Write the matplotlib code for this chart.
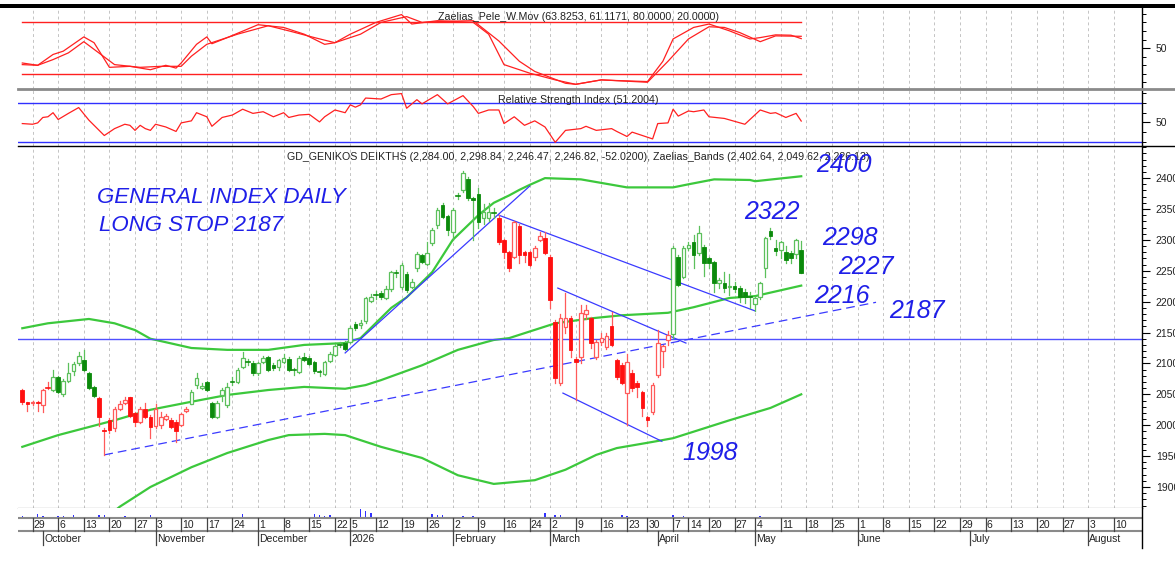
import numpy as np
import pandas as pd
import matplotlib
matplotlib.use("Agg")
import matplotlib.pyplot as plt
from matplotlib.patches import Rectangle
from matplotlib.lines import Line2D

plt.rcParams['font.family'] = ['Liberation Sans', 'DejaVu Sans']

W, H = 1175, 562

# trading calendar: only past holidays are skipped, the future part of the axis is plain weekdays
first_day = '2025-09-25'
last_day = '2026-05-15'
axis_end = '2026-08-14'
holidays = ['2025-10-28', '2025-12-25', '2025-12-26', '2025-12-29', '2025-12-30',
            '2025-12-31', '2026-01-01', '2026-01-02', '2026-02-23', '2026-03-25',
            '2026-04-06', '2026-04-10', '2026-04-13', '2026-05-01']

# daily candles, GD general index
opens = [2057, 2037, 2036, 2038, 2032, 2060, 2057, 2078, 2050, 2072,
         2088, 2100, 2105, 2084, 2062, 2044, 1993, 2008, 1995, 2026,
         2036, 2045, 2019, 2006, 2026, 2013, 1999, 2000, 2010, 2008,
         2006, 2000, 2023, 2035, 2065, 2061, 2070, 2036, 2013, 2049,
         2033, 2069, 2070, 2094, 2103, 2101, 2084, 2102, 2111, 2097,
         2094, 2102, 2107, 2090, 2086, 2111, 2109, 2102, 2087, 2083,
         2104, 2114, 2129, 2133, 2135, 2164, 2163, 2169, 2201, 2210,
         2214, 2206, 2220, 2246, 2224, 2245, 2224, 2254, 2275, 2261,
         2295, 2324, 2356, 2339, 2313, 2370, 2381, 2398, 2368, 2374,
         2335, 2336, 2342, 2335, 2300, 2280, 2272, 2322, 2280, 2280,
         2272, 2300, 2303, 2272, 2167, 2068, 2159, 2173, 2107, 2110,
         2180, 2173, 2110, 2135, 2127, 2160, 2106, 2097, 2052, 2084,
         2068, 2054, 2013, 2021, 2081, 2120, 2138, 2148, 2272, 2240,
         2287, 2296, 2279, 2288, 2270, 2264, 2230, 2230, 2223, 2226,
         2222, 2215, 2207, 2196, 2207, 2254, 2314, 2287, 2284, 2280,
         2278, 2277, 2284]
highs = [2059, 2038, 2040, 2039, 2058, 2070, 2089, 2080, 2075, 2100,
         2102, 2118, 2121, 2086, 2064, 2046, 1995, 2012, 2030, 2040,
         2046, 2046, 2021, 2030, 2036, 2016, 2035, 2022, 2018, 2012,
         2008, 2020, 2030, 2057, 2084, 2068, 2072, 2038, 2040, 2060,
         2068, 2078, 2092, 2118, 2108, 2104, 2102, 2112, 2112, 2100,
         2108, 2115, 2110, 2092, 2112, 2117, 2112, 2104, 2090, 2104,
         2118, 2132, 2134, 2136, 2160, 2167, 2170, 2208, 2212, 2218,
         2218, 2225, 2250, 2252, 2262, 2248, 2236, 2280, 2277, 2297,
         2320, 2352, 2360, 2341, 2352, 2376, 2412, 2402, 2370, 2384,
         2358, 2360, 2352, 2340, 2302, 2282, 2331, 2326, 2282, 2282,
         2290, 2312, 2313, 2275, 2170, 2180, 2214, 2176, 2110, 2195,
         2195, 2175, 2138, 2150, 2150, 2183, 2108, 2100, 2115, 2090,
         2072, 2056, 2015, 2068, 2154, 2130, 2152, 2290, 2275, 2290,
         2296, 2308, 2322, 2292, 2272, 2266, 2238, 2248, 2245, 2232,
         2225, 2220, 2215, 2208, 2232, 2305, 2320, 2300, 2298, 2290,
         2282, 2302, 2298.84]
lows = [2035, 2023, 2033, 2023, 2021, 2058, 2056, 2052, 2048, 2070,
        2081, 2098, 2088, 2058, 2046, 1999, 1952, 1988, 1990, 2024,
        2034, 2013, 1998, 2004, 2012, 1979, 1995, 1996, 2008, 1995,
        1973, 1998, 2021, 2034, 2060, 2058, 2055, 2012, 2012, 2040,
        2030, 2065, 2068, 2092, 2098, 2082, 2082, 2100, 2088, 2090,
        2090, 2100, 2087, 2081, 2084, 2104, 2097, 2085, 2080, 2081,
        2102, 2112, 2126, 2121, 2133, 2154, 2158, 2166, 2199, 2205,
        2205, 2204, 2218, 2240, 2220, 2215, 2222, 2250, 2262, 2259,
        2292, 2320, 2335, 2308, 2300, 2366, 2378, 2364, 2300, 2320,
        2325, 2330, 2335, 2294, 2270, 2250, 2270, 2262, 2265, 2257,
        2268, 2298, 2277, 2190, 2068, 2065, 2150, 2110, 2041, 2100,
        2172, 2125, 2108, 2130, 2124, 2128, 2075, 2066, 2000, 2055,
        2045, 2015, 1998, 2018, 2078, 2095, 2130, 2142, 2225, 2238,
        2284, 2255, 2275, 2242, 2255, 2215, 2222, 2215, 2210, 2215,
        2200, 2198, 2190, 2185, 2205, 2240, 2302, 2275, 2270, 2262,
        2262, 2270, 2246.47]
closes = [2037, 2034, 2038, 2036, 2057, 2061, 2078, 2054, 2072, 2085,
          2099, 2112, 2089, 2060, 2048, 2014, 1991, 1992, 2027, 2035,
          2041, 2015, 2006, 2027, 2014, 1997, 2026, 2014, 2015, 1997,
          1990, 2018, 2027, 2054, 2076, 2063, 2057, 2013, 2036, 2057,
          2062, 2070, 2089, 2109, 2102, 2084, 2100, 2109, 2089, 2093,
          2105, 2109, 2089, 2089, 2109, 2106, 2099, 2088, 2086, 2102,
          2115, 2128, 2130, 2123, 2157, 2157, 2165, 2206, 2207, 2211,
          2207, 2220, 2248, 2247, 2259, 2219, 2232, 2277, 2264, 2279,
          2316, 2348, 2337, 2316, 2348, 2371, 2408, 2368, 2364, 2329,
          2345, 2345, 2343, 2296, 2280, 2254, 2329, 2275, 2275, 2259,
          2287, 2306, 2279, 2203, 2076, 2173, 2173, 2122, 2102, 2182,
          2186, 2133, 2135, 2141, 2144, 2130, 2078, 2068, 2102, 2060,
          2062, 2028, 2008, 2065, 2133, 2128, 2146, 2287, 2227, 2287,
          2292, 2275, 2311, 2262, 2262, 2230, 2235, 2222, 2225, 2220,
          2207, 2207, 2208, 2206, 2230, 2303, 2306, 2282, 2296, 2267,
          2270, 2300, 2246.82]
# colour of each candle (trend state of the system)
regime = 'R' * 6 + 'G' * 9 + 'R' * 18 + 'G' * 60 + 'R' * 34 + 'G' * 26

volume = [1.7, 1.2, 1.2, 4, 1.7, 1.5, 1.5, 1.7, 1.7, 1.2,
          2.7, 1.5, 1.2, 1.5, 1.5, 2.7, 3.3, 1.5, 1.5, 1.5,
          1.7, 1.2, 1.2, 1.5, 1.2, 2.7, 1.2, 1.2, 1.2, 1.2,
          1.2, 1.2, 1.2, 1.5, 1.5, 1.2, 1.2, 1.2, 1.2, 1.2,
          1.2, 1.2, 1.5, 4, 1.2, 1.2, 1.2, 1.2, 1.2, 1.2,
          1.2, 1.2, 1.2, 1.2, 1.2, 1.5, 1.5, 4, 2.7, 1.7,
          2.7, 1.2, 1.2, 1.2, 1.5, 1.5, 9.3, 6.7, 5, 1.5,
          1.2, 1.2, 1.2, 1.2, 1.2, 1.2, 1.2, 1.5, 1.2, 1.5,
          4, 3.3, 3.3, 1.5, 1.5, 1.5, 1.7, 1.2, 1.7, 1.2,
          1.5, 1.2, 1.2, 1.2, 1.2, 1.2, 1.2, 1.2, 1.2, 1.2,
          1.5, 1.2, 5, 1.5, 3.3, 2.7, 1.5, 1.5, 1.5, 1.2,
          1.2, 1.2, 1.2, 1.2, 1.2, 1.2, 1.2, 3, 2, 1.2,
          1.2, 1.2, 1.5, 1.2, 1.5, 1.2, 1.2, 3, 1.2, 2,
          1.2, 1.2, 1.2, 1.2, 1.2, 1.2, 1.2, 1.2, 1.2, 1.2,
          1.2, 1.2, 1.2, 1.2, 2, 1.2, 1.2, 1.2, 1.2, 1.5,
          1.2, 1.2, 1.2]

# Zaelias bands, read at some bars
band_up_bar = [0, 5, 13, 18, 22, 25, 33, 40, 48, 55, 63, 66, 72, 75, 80, 84, 87, 89, 92,
               95, 97, 99, 102, 109, 118, 127, 130, 135, 142, 143, 152]
band_up = [2157, 2165, 2172, 2165, 2154, 2140, 2125, 2122, 2122, 2130, 2133, 2141, 2190,
           2207, 2248, 2300, 2324, 2340, 2360, 2372, 2381, 2389, 2400, 2398, 2385, 2385,
           2390, 2398, 2397, 2395, 2403]
band_mid_bar = [0, 7, 18, 25, 33, 40, 48, 55, 63, 67, 70, 78, 85, 92, 95, 101, 104, 111,
                117, 126, 131, 138, 143, 152]
band_mid = [1965, 1984, 2008, 2025, 2038, 2049, 2057, 2062, 2059, 2065, 2073, 2097, 2122,
            2138, 2141, 2157, 2165, 2173, 2178, 2182, 2191, 2206, 2209, 2226]
band_low_bar = [15, 19, 25, 33, 40, 48, 52, 59, 63, 70, 78, 85, 92, 100, 106, 112, 116,
                123, 127, 138, 146, 152]
band_low = [1840, 1868, 1900, 1932, 1955, 1976, 1984, 1986, 1984, 1965, 1947, 1919, 1905,
            1911, 1928, 1952, 1963, 1973, 1979, 2008, 2028, 2050]

# Zaelias Pele weighted moving averages
pele_bar = [0, 3, 6, 8, 12, 14, 17, 21, 25, 28, 30, 31, 34, 36, 37, 40, 46, 51, 55, 59,
            61, 64, 69, 74, 76, 81, 88, 91, 94, 99, 104, 108, 113, 116, 122, 125, 127,
            131, 134, 135, 138, 142, 144, 147, 150, 152]
pele_fast = [32.5, 29.8, 42.5, 46.4, 63.1, 56.3, 27.4, 28.6, 24.6, 29.8, 26.5, 32.5, 54.4,
             63.1, 55.1, 62.3, 77.4, 74.2, 66.3, 54.4, 56.3, 66.3, 80.1, 89.3, 78.2, 82.1,
             80.1, 66.3, 30.6, 20.6, 12.7, 7.5, 12.7, 11.9, 10.7, 34.5, 60.7, 74.2, 78.2,
             76.2, 70.2, 60.7, 62.3, 65.5, 65.1, 61.1]
pele_slow_bar = [0, 3, 6, 9, 12, 18, 23, 27, 31, 33, 36, 42, 48, 52, 57, 61, 66, 70, 75,
                 78, 82, 88, 93, 97, 100, 106, 108, 113, 122, 126, 130, 134, 137, 140,
                 144, 147, 152]
pele_slow = [30.6, 29.8, 36.5, 44.4, 57.5, 30.6, 27.4, 28.6, 28.6, 40.5, 54.4, 66.3, 76.2,
             70.2, 62.3, 56.3, 66.3, 80.1, 86.9, 80.1, 81.3, 82.1, 58.3, 34.5, 22.6, 8.7,
             7.5, 12.7, 9.9, 34.5, 60.7, 75.0, 74.2, 68.2, 57.5, 64.3, 63.8]

# RSI
rsi_bar = [0, 2, 3, 4, 5, 6, 7, 9, 11, 13, 16, 18, 20, 21, 22, 23, 24, 25, 26, 28, 30, 31,
           33, 34, 36, 37, 39, 41, 43, 45, 47, 49, 51, 52, 54, 56, 58, 59, 61, 63, 64, 65,
           66, 67, 70, 72, 74, 75, 77, 78, 81, 83, 86, 88, 89, 91, 93, 94, 96, 98, 100, 102,
           104, 106, 109, 110, 112, 115, 116, 118, 119, 121, 123, 124, 126, 127, 128, 130,
           131, 133, 134, 137, 141, 144, 146, 147, 149, 151, 152]
rsi = [48.6, 47.9, 49.3, 54.9, 55.6, 59.8, 52.8, 59.1, 65.1, 52.1, 36.3, 43.4, 47.9, 46.8,
       41.6, 46.8, 43.4, 41.6, 47.9, 45.1, 40.5, 49.3, 51.4, 59.8, 55.6, 45.8, 54.9, 57.4,
       63.4, 59.1, 60.8, 55.6, 59.8, 54.9, 57.4, 58.1, 50.3, 55.6, 62.6, 59.8, 67.9, 65.5,
       67.9, 74.9, 73.9, 78.4, 79.5, 64.4, 73.2, 68.9, 78.4, 68.9, 77.4, 66.1, 59.1, 62.6,
       62.6, 48.6, 55.6, 46.8, 51.4, 45.1, 29.3, 41.6, 43.4, 45.8, 41.6, 43.4, 40.5, 35.3,
       39.8, 36.3, 32.8, 48.6, 49.3, 63.4, 56.3, 61.6, 60.8, 62.6, 55.6, 53.9, 47.9, 62.6,
       59.1, 59.8, 54.9, 59.1, 51.2]

# hand drawn lines (bar, price)
level_price = 2139.5
support_bar, support_px = [16, 166.6], [1952, 2199]
rally_bar, rally_px = [63, 99], [2117, 2387]
fall_bar, fall_px = [93, 143], [2340, 2185]
chan_top_bar, chan_top_px = [104.5, 129.5], [2222, 2133]
chan_bot_bar, chan_bot_px = [105.5, 124.8], [2052, 1974]

title_main = ('GD_GENIKOS DEIKTHS (2,284.00, 2,298.84, 2,246.47, 2,246.82, -52.0200), '
              'Zaelias_Bands (2,402.64, 2,049.62, 2,226.13)')
title_pele = 'Zaelias_Pele_W.Mov (63.8253, 61.1171, 80.0000, 20.0000)'
title_rsi = 'Relative Strength Index (51.2004)'

# ---------------------------------------------------------------
days = pd.bdate_range(first_day, axis_end)
days = days[~days.isin(pd.to_datetime(holidays))]
n = len(closes)

week_idx = [i for i in range(1, len(days))
            if days[i].isocalendar()[1] != days[i - 1].isocalendar()[1]]
month_idx = [i for i in range(1, len(days)) if days[i].month != days[i - 1].month]


def fx(x):
    return x / W


def fy(y):
    return 1 - y / H


def rect(top, bottom):
    return [18 / W, 1 - bottom / H, (1142 - 18) / W, (bottom - top) / H]


fig = plt.figure(figsize=(W / 100, H / 100), dpi=100)
fig.patch.set_facecolor('white')

ax1 = fig.add_axes(rect(8, 89))
ax2 = fig.add_axes(rect(89.5, 146), sharex=ax1)
ax3 = fig.add_axes(rect(146, 508), sharex=ax1)
ax4 = fig.add_axes(rect(508, 548), sharex=ax1)

xlim = (-0.84, 218.5)
grid_kw = dict(color='#c4c4c4', lw=0.7, ls=(0, (3, 3)), zorder=0)
for ax in (ax1, ax2, ax3, ax4):
    ax.set_xlim(*xlim)
    for s in ('left', 'top', 'bottom'):
        ax.spines[s].set_visible(False)
    ax.spines['right'].set_color('black')
    ax.spines['right'].set_linewidth(1)
    ax.tick_params(axis='x', which='both', bottom=False, labelbottom=False)
    ax.yaxis.tick_right()
    ax.tick_params(axis='y', which='major', length=6, width=0.8, pad=4,
                   labelsize=7.5, labelcolor='#222222')
    ax.tick_params(axis='y', which='minor', length=3, width=0.7)
for ax in (ax1, ax2, ax3):
    for i in week_idx:
        ax.axvline(i, **grid_kw)

# --- Pele panel
red = '#ff2020'
ax1.set_ylim(2, 97)
ax1.set_yticks([50])
ax1.set_yticks(range(10, 100, 10), minor=True)
ax1.plot([0, n - 1], [80, 80], color=red, lw=1)
ax1.plot([0, n - 1], [20, 20], color=red, lw=1)
ax1.plot(pele_bar, pele_fast, color=red, lw=0.9)
ax1.plot(pele_slow_bar, pele_slow, color=red, lw=0.9)

# --- RSI panel
ax2.set_ylim(25.5, 83.7)
ax2.set_yticks([50])
ax2.set_yticks([30, 40, 60, 70, 80], minor=True)
ax2.axhline(70, color='#3030ff', lw=1)
ax2.axhline(30, color='#3030ff', lw=1)
ax2.plot(rsi_bar, rsi, color=red, lw=0.9)

# --- main price panel
ax3.set_ylim(1866, 2452)
ax3.set_yticks(range(1900, 2401, 50))
ax3.set_yticks(range(1870, 2451, 10), minor=True)
ax3.spines['bottom'].set_visible(True)
ax3.spines['bottom'].set_color('black')

green_band = '#3cc83c'
ax3.plot(band_up_bar, band_up, color=green_band, lw=1.6, zorder=2)
ax3.plot(band_mid_bar, band_mid, color=green_band, lw=1.6, zorder=2)
ax3.plot(band_low_bar, band_low, color=green_band, lw=1.6, zorder=2)

blue = '#3a3aff'
ax3.axhline(level_price, color='#5050ff', lw=1.0, zorder=2)
ax3.plot(support_bar, support_px, color=blue, lw=0.9, ls=(0, (7, 4)), zorder=2)
for bx, py in ((rally_bar, rally_px), (fall_bar, fall_px),
               (chan_top_bar, chan_top_px), (chan_bot_bar, chan_bot_px)):
    ax3.plot(bx, py, color=blue, lw=0.9, zorder=2)

col_fill = {'G': '#0b8a0b', 'R': '#ff1010'}
col_line = {'G': '#5cc05c', 'R': '#ff5a5a'}
bw = 0.72
for i in range(n):
    o, h, l, c = opens[i], highs[i], lows[i], closes[i]
    k = regime[i]
    ax3.plot([i, i], [l, h], color=col_line[k], lw=0.9, zorder=3)
    lo, hi = min(o, c), max(o, c)
    if hi - lo < 1.5:
        ax3.plot([i - bw / 2, i + bw / 2], [c, c], color=col_fill[k], lw=1.2, zorder=4)
    elif c >= o:
        ax3.add_patch(Rectangle((i - bw / 2, lo), bw, hi - lo, facecolor='white',
                                edgecolor=col_line[k], lw=0.9, zorder=4))
    else:
        ax3.add_patch(Rectangle((i - bw / 2, lo), bw, hi - lo, facecolor=col_fill[k],
                                edgecolor=col_fill[k], lw=0.6, zorder=4))

# --- date axis with volume
ax4.set_ylim(40, 0)
ax4.set_yticks([])
ax4.bar(range(n), [-v for v in volume], bottom=10, width=0.3, color='#3030ff', zorder=2)
ax4.axhline(10, color='#8a8a8a', lw=1.5)
ax4.axhline(23, color='#8a8a8a', lw=1.5)
for i in week_idx:
    ax4.plot([i, i], [10, 23], color='#444444', lw=0.9)
    ax4.text(i + 0.25, 16.8, str(days[i].day), fontsize=7.5, color='#222222',
             ha='left', va='center')
for i in month_idx:
    ax4.plot([i, i], [23, 37], color='#444444', lw=0.9)
    name = str(days[i].year) if days[i].month == 1 else days[i].strftime('%B')
    ax4.text(i + 0.25, 30.5, name, fontsize=7.5, color='#222222', ha='left', va='center')

# --- frame lines
fig.add_artist(Rectangle((0, fy(8)), 1, (8 - 4) / H, transform=fig.transFigure,
                         facecolor='black', edgecolor='none'))
fig.add_artist(Line2D([fx(18), 1], [fy(89), fy(89)], color='#8a8a8a', lw=2))
fig.add_artist(Line2D([fx(18), 1], [fy(146), fy(146)], color='black', lw=1))

# --- titles
tkw = dict(fontsize=7.7, color='#222222', ha='center', va='center')
fig.text(fx(578), fy(17), title_pele, **tkw)
fig.text(fx(578), fy(100), title_rsi, **tkw)
fig.text(fx(578), fy(157), title_main, **tkw)

# --- hand written notes
note = dict(color='#1f1fe8', style='italic', va='baseline', ha='left')
fig.text(fx(97), fy(203), 'GENERAL INDEX DAILY', fontsize=16, **note)
fig.text(fx(99), fy(231), 'LONG STOP 2187', fontsize=16, **note)
for txt, x, y in (('2400', 816, 172), ('2322', 744, 219), ('2298', 822, 245),
                  ('2227', 838, 274), ('2216', 814, 303), ('2187', 889, 318),
                  ('1998', 682, 460)):
    fig.text(fx(x), fy(y), txt, fontsize=18, **note)

fig.savefig('out.png', dpi=100)
